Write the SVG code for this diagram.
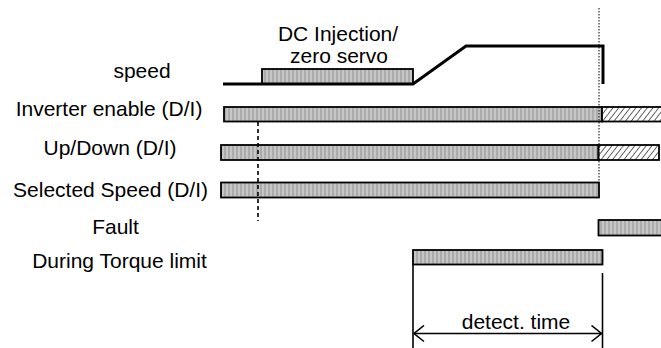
<svg xmlns="http://www.w3.org/2000/svg" width="661" height="348" viewBox="0 0 661 348">
<defs>
<pattern id="stripes" patternUnits="userSpaceOnUse" width="4" height="20">
<rect width="4" height="20" fill="#c6c6c6"/>
<rect width="2" height="20" fill="#ababab"/>
</pattern>
<pattern id="hatch" patternUnits="userSpaceOnUse" width="4.5" height="6" patternTransform="rotate(38)">
<rect width="4.5" height="6" fill="#ffffff"/>
<line x1="0" y1="0" x2="0" y2="6" stroke="#000" stroke-width="1.2"/>
</pattern>
<marker id="chev" viewBox="0 0 12 18" refX="11" refY="9" markerWidth="12" markerHeight="18" markerUnits="userSpaceOnUse" orient="auto-start-reverse">
<path d="M1,1 L11,9 L1,17" fill="none" stroke="#000" stroke-width="1.6"/>
</marker>
</defs>
<style>
text{font-family:"Liberation Sans",Arial,sans-serif;font-size:21px;fill:#000;text-anchor:middle}
.bar{fill:url(#stripes);stroke:#000;stroke-width:1.8}
.hat{fill:url(#hatch);stroke:#000;stroke-width:1.8}
.sig{fill:none;stroke:#000;stroke-width:3}
.ln{fill:none;stroke:#000;stroke-width:1.6}
</style>
<rect width="661" height="348" fill="#ffffff"/>

<g id="speed">
<text x="142" y="78">speed</text>
<rect class="bar" x="262" y="69" width="151" height="15"/>
<polyline class="sig" points="223,84 413,84 466,46 603,46 603,84"/>
<text x="338" y="41">DC Injection/</text>
<text x="339" y="63">zero servo</text>
</g>

<g id="inverter-enable">
<text x="109" y="116">Inverter enable (D/I)</text>
<rect class="bar" x="224" y="107" width="378" height="14.5"/>
<rect class="hat" x="602" y="107" width="62" height="14.5"/>
</g>

<g id="up-down">
<text x="110" y="155">Up/Down (D/I)</text>
<rect class="bar" x="221" y="145" width="377.5" height="15"/>
<rect class="hat" x="598.5" y="145" width="60.5" height="15"/>
</g>

<g id="selected-speed">
<text x="110.5" y="197">Selected Speed (D/I)</text>
<rect class="bar" x="221" y="182.5" width="378" height="15"/>
</g>

<g id="fault">
<text x="115.5" y="234">Fault</text>
<rect class="bar" x="598.5" y="220" width="66" height="15.5"/>
</g>

<g id="torque-limit">
<text x="119.5" y="268">During Torque limit</text>
<rect class="bar" x="413" y="250" width="189.5" height="14.5"/>
</g>

<g id="connectors">
<line x1="599" y1="8" x2="599" y2="182" stroke="#000" stroke-width="1" stroke-dasharray="1.5,1.5"/>
<line x1="258" y1="122" x2="258" y2="221" stroke="#000" stroke-width="1.6" stroke-dasharray="4,3"/>
<line class="ln" x1="413" y1="265" x2="413" y2="348"/>
<line class="ln" x1="602.5" y1="273" x2="602.5" y2="348"/>
<line class="ln" x1="414" y1="333.5" x2="601.5" y2="333.5" marker-start="url(#chev)" marker-end="url(#chev)"/>
<text x="516" y="329">detect. time</text>
</g>
</svg>
